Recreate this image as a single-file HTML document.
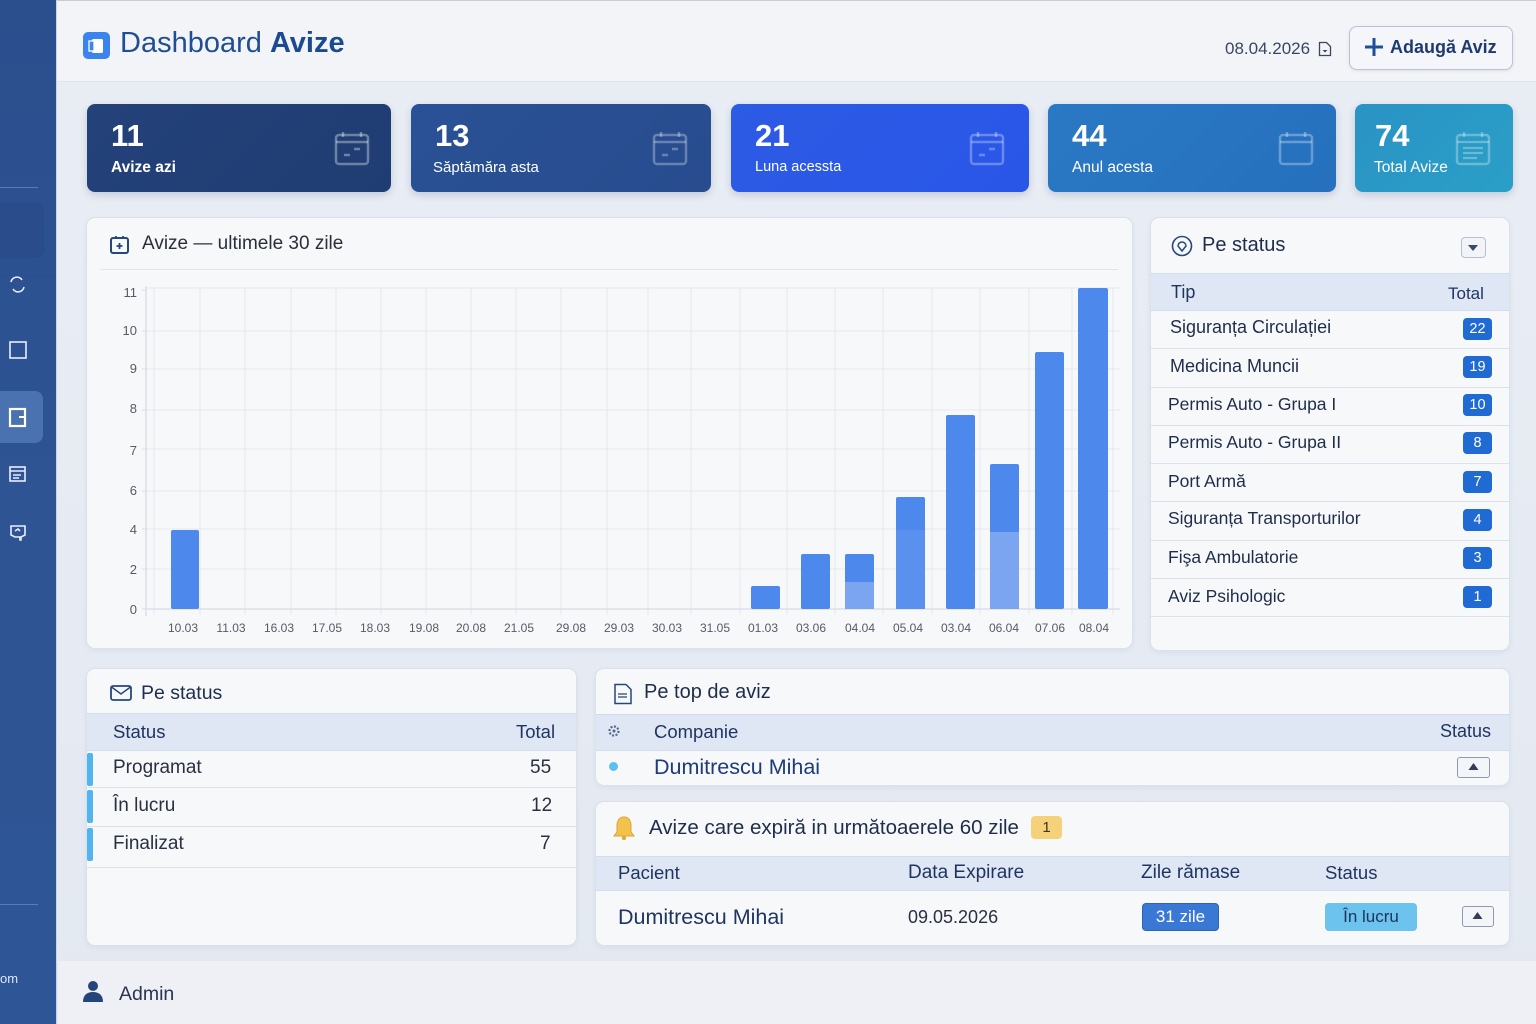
<!DOCTYPE html>
<html><head><meta charset="utf-8">
<style>
*{margin:0;padding:0;box-sizing:border-box}
body{width:1536px;height:1024px;overflow:hidden;position:relative;font-family:"Liberation Sans","DejaVu Sans",sans-serif;background:linear-gradient(180deg,#e9edf4 0%,#e6ebf3 60%,#e4e9f1 100%);color:#1f2d4a}
.a{position:absolute}
.side{left:0;top:0;width:57px;height:1024px;background:linear-gradient(180deg,#2b4e8d 0%,#2e5494 50%,#2e5595 100%);border-right:1px solid #c9d3e3}
.hdr{left:57px;top:0;width:1479px;height:82px;background:#f3f4f7;border-bottom:1px solid #e0e4ec;border-top:1px solid #c9ccd3}
.card{background:#f7f8fa;border:1px solid #dbe1ea;border-radius:9px;box-shadow:0 2px 6px rgba(40,60,100,.06)}
.stat{top:104px;height:88px;border-radius:8px;color:#fff;box-shadow:0 3px 8px rgba(30,50,100,.18)}
.stat .n{position:absolute;left:24px;top:14px;font-size:31px;font-weight:bold}
.stat .l{position:absolute;left:24px;top:55px;font-size:15.5px}
.stat svg{position:absolute;top:27px}
.th{background:#dfe7f5;border-top:1px solid #d2dcec;border-bottom:1px solid #d2dcec}
.row{border-bottom:1px solid #dde2ea}
.badge{position:absolute;background:#1f6bd3;color:#fff;font-size:14.5px;border-radius:4px;text-align:center;height:22px;line-height:22px;width:29px}
.t{position:absolute;white-space:nowrap}
</style></head><body>

<!-- sidebar -->
<div class="a side"></div>
<div class="a" style="left:0;top:187px;width:38px;height:1px;background:#5d7cb0"></div>
<div class="a" style="left:0;top:203px;width:44px;height:55px;background:#2a4c8b;border-radius:0 8px 8px 0"></div>
<div class="a" style="left:0;top:391px;width:43px;height:52px;background:#4a71b0;border-radius:0 8px 8px 0"></div>
<div class="a" style="left:0;top:904px;width:38px;height:1px;background:#5d7cb0"></div>
<svg class="a" style="left:0;top:0" width="57" height="1024">
 <g fill="none" stroke="#e8eefa" stroke-width="1.6">
  <path d="M11 282 a6 6 0 0 1 11 -2 M24 287 a6 6 0 0 1 -11 2"/>
  <rect x="10" y="342" width="16" height="16"/>
  <rect x="10" y="409" width="15" height="17" stroke-width="2.2" stroke="#fff"/>
  <path d="M19 417 h7" stroke="#fff" stroke-width="2"/>
  <rect x="10" y="467" width="15" height="14"/><path d="M10 471 h15 M13 475 h8 M13 478 h6"/>
  <path d="M11 526 h14 v9 l-4 2 v3 h-1 v-3 h-5 l-4 -2 z"/><path d="M15 531 l3 -2 2 2"/>
 </g>
</svg>
<div class="t" style="left:0;top:971px;font-size:13px;color:#dfe7f5">om</div>

<!-- header -->
<div class="a hdr"></div>
<div class="a" style="left:83px;top:32px;width:27px;height:27px;background:#3b83ef;border-radius:5px"></div>
<svg class="a" style="left:83px;top:32px" width="27" height="27"><rect x="9" y="7" width="11" height="14" rx="1.5" fill="#fff"/><rect x="6" y="9" width="5" height="10" fill="#3b83ef" stroke="#fff" stroke-width="1.3"/></svg>
<div class="t" style="left:120px;top:27px;font-size:29px;color:#1f4e96">Dashboard <span style="font-weight:600;color:#1c4a90">Avize</span></div>
<div class="t" style="left:1225px;top:39px;font-size:17px;color:#3a4660">08.04.2026</div>
<svg class="a" style="left:1317px;top:41px" width="16" height="16"><path d="M2.5 1.5 h7 l4 4 v9 h-11 z" fill="none" stroke="#3a4660" stroke-width="1.3"/><path d="M5.5 9 l2.5 2.5 2.5 -2.5z" fill="#3a4660"/></svg>
<div class="a" style="left:1349px;top:26px;width:164px;height:44px;border:1.3px solid #b6c2da;border-radius:8px;background:#f5f6f9;box-shadow:0 1px 3px rgba(30,50,100,.1)"></div>
<svg class="a" style="left:1364px;top:37px" width="20" height="20"><path d="M10 1 v18 M1 10 h18" stroke="#1e4f9c" stroke-width="3"/></svg>
<div class="t" style="left:1390px;top:37px;font-size:18px;font-weight:bold;color:#1f3a72">Adaugă Aviz</div>

<!-- stat cards -->
<div class="a stat" style="left:87px;width:304px;background:linear-gradient(135deg,#24427a,#1f3d72)"><div class="n">11</div><div class="l" style="font-weight:600">Avize azi</div>
<svg style="left:247px" width="36" height="36"><rect x="2" y="4" width="32" height="29" rx="3" fill="none" stroke="rgba(255,255,255,.35)" stroke-width="2.5"/><path d="M2 11 h32 M9 1 v5 M27 1 v5" stroke="rgba(255,255,255,.35)" stroke-width="2.5"/><path d="M10 24 h6 M20 18 h6" stroke="rgba(255,255,255,.35)" stroke-width="2.5"/></svg></div>
<div class="a stat" style="left:411px;width:300px;background:linear-gradient(135deg,#2a5196,#284c8e)"><div class="n">13</div><div class="l" style="font-size:15px;left:22px">Săptămăra asta</div>
<svg style="left:241px" width="36" height="36"><rect x="2" y="4" width="32" height="29" rx="3" fill="none" stroke="rgba(255,255,255,.3)" stroke-width="2.5"/><path d="M2 11 h32 M9 1 v5 M27 1 v5 M10 24 h6 M20 18 h6" stroke="rgba(255,255,255,.3)" stroke-width="2.5"/></svg></div>
<div class="a stat" style="left:731px;width:298px;background:linear-gradient(135deg,#2c5be4,#2a56e8)"><div class="n">21</div><div class="l" style="font-size:14.5px">Luna acessta</div>
<svg style="left:238px" width="36" height="36"><rect x="2" y="4" width="32" height="29" rx="3" fill="none" stroke="rgba(255,255,255,.3)" stroke-width="2.5"/><path d="M2 11 h32 M9 1 v5 M27 1 v5 M10 24 h6 M20 18 h6" stroke="rgba(255,255,255,.3)" stroke-width="2.5"/></svg></div>
<div class="a stat" style="left:1048px;width:288px;background:linear-gradient(135deg,#2a79c4,#2670bd)"><div class="n">44</div><div class="l">Anul acesta</div>
<svg style="left:230px" width="36" height="36"><rect x="2" y="4" width="32" height="29" rx="3" fill="none" stroke="rgba(255,255,255,.3)" stroke-width="2.5"/><path d="M2 11 h32 M9 1 v5 M27 1 v5" stroke="rgba(255,255,255,.3)" stroke-width="2.5"/></svg></div>
<div class="a stat" style="left:1355px;width:158px;background:linear-gradient(135deg,#2a93c5,#2a9fc6)"><div class="n" style="left:20px">74</div><div class="l" style="left:19px">Total Avize</div>
<svg style="left:100px" width="38" height="36"><rect x="2" y="4" width="32" height="29" rx="3" fill="none" stroke="rgba(255,255,255,.3)" stroke-width="2.5"/><path d="M2 11 h32 M9 1 v5 M27 1 v5 M8 17 h20 M8 22 h20 M8 27 h14" stroke="rgba(255,255,255,.3)" stroke-width="2.3"/></svg></div>

<!-- chart card -->
<div class="a card" style="left:86px;top:217px;width:1047px;height:432px"></div>
<svg class="a" style="left:109px;top:234px" width="22" height="22"><rect x="2" y="4" width="17" height="15" rx="2" fill="none" stroke="#25467e" stroke-width="2"/><path d="M7 2 v3 M14 2 v3 M10.5 9 v6 M7.5 12 h6" stroke="#25467e" stroke-width="1.8"/></svg>
<div class="t" style="left:142px;top:233px;font-size:19px;color:#2a2f3a">Avize — ultimele 30 zile</div>
<div class="a" style="left:100px;top:269px;width:1018px;height:1px;background:#e2e6ed"></div>

<svg class="a" style="left:0;top:0" width="1536" height="1024">
 <g stroke="#e6e8ee" stroke-width="1">
  <path d="M146 288H1120M146 331H1120M146 369H1120M146 410H1120M146 449H1120M146 491H1120M146 529H1120M146 569H1120"/>
  <path d="M154 288V615M200 288V615M245 288V615M291 288V615M336 288V615M381 288V615M426 288V615M471 288V615M516 288V615M561 288V615M607 288V615M648 288V615M691 288V615M740 288V615M787 288V615M835 288V615M883 288V615M932 288V615M980 288V615M1029 288V615M1072 288V615M1113 288V615"/>
 </g>
 <path d="M146 286V616M146 609H1120" stroke="#d7dbe3" stroke-width="1.3"/>
 <path d="M142 290h4M142 331h4M142 369h4M142 410h4M142 449h4M142 491h4M142 529h4M142 569h4M142 609h4" stroke="#d7dbe3"/>
 <g font-family="Liberation Sans, sans-serif" font-size="13" fill="#555b66" text-anchor="end">
  <text x="137" y="297">11</text><text x="137" y="335">10</text><text x="137" y="373">9</text><text x="137" y="413">8</text><text x="137" y="455">7</text><text x="137" y="495">6</text><text x="137" y="534">4</text><text x="137" y="574">2</text><text x="137" y="614">0</text>
 </g>
 <g font-family="Liberation Sans, sans-serif" font-size="12" fill="#555b66" text-anchor="middle">
  <text x="183" y="632">10.03</text><text x="231" y="632">11.03</text><text x="279" y="632">16.03</text><text x="327" y="632">17.05</text><text x="375" y="632">18.03</text><text x="424" y="632">19.08</text><text x="471" y="632">20.08</text><text x="519" y="632">21.05</text><text x="571" y="632">29.08</text><text x="619" y="632">29.03</text><text x="667" y="632">30.03</text><text x="715" y="632">31.05</text><text x="763" y="632">01.03</text><text x="811" y="632">03.06</text><text x="860" y="632">04.04</text><text x="908" y="632">05.04</text><text x="956" y="632">03.04</text><text x="1004" y="632">06.04</text><text x="1050" y="632">07.06</text><text x="1094" y="632">08.04</text>
 </g>
 <g fill="#4d88ec">
  <rect x="171" y="530" width="28" height="79" rx="2"/>
  <rect x="751" y="586" width="29" height="23" rx="2"/>
  <rect x="801" y="554" width="29" height="55" rx="2"/>
  <rect x="845" y="554" width="29" height="55" rx="2"/>
  <rect x="896" y="497" width="29" height="112" rx="2"/>
  <rect x="946" y="415" width="29" height="194" rx="2"/>
  <rect x="990" y="464" width="29" height="145" rx="2"/>
  <rect x="1035" y="352" width="29" height="257" rx="2"/>
  <rect x="1078" y="288" width="30" height="321" rx="2"/>
 </g>
 <g fill="#7ba4f1">
  <rect x="845" y="582" width="29" height="27"/>
  <rect x="990" y="532" width="29" height="77"/>
 </g>
 <rect x="896" y="530" width="29" height="79" fill="#5a91ee"/>
</svg>

<!-- right Pe status card -->
<div class="a card" style="left:1150px;top:217px;width:360px;height:434px;overflow:hidden">
 <div class="a th" style="left:0;top:55px;width:360px;height:38px"></div>
 <div class="a row" style="left:0;top:93px;width:360px;height:38px"></div>
 <div class="a row" style="left:0;top:131px;width:360px;height:39px"></div>
 <div class="a row" style="left:0;top:170px;width:360px;height:38px"></div>
 <div class="a row" style="left:0;top:208px;width:360px;height:38px"></div>
 <div class="a row" style="left:0;top:246px;width:360px;height:38px"></div>
 <div class="a row" style="left:0;top:284px;width:360px;height:39px"></div>
 <div class="a row" style="left:0;top:323px;width:360px;height:38px"></div>
 <div class="a row" style="left:0;top:361px;width:360px;height:38px"></div>
</div>
<svg class="a" style="left:1171px;top:235px" width="22" height="22"><circle cx="11" cy="11" r="9.5" fill="none" stroke="#25467e" stroke-width="1.6"/><path d="M11 16 l-4 -5 a4 4 0 1 1 8 0 z" fill="none" stroke="#25467e" stroke-width="1.5"/></svg>
<div class="t" style="left:1202px;top:234px;font-size:20px;color:#1f2d4a">Pe status</div>
<div class="a" style="left:1461px;top:237px;width:25px;height:21px;border:1.2px solid #b5bfcf;border-radius:4px;background:#f3f4f7"></div>
<svg class="a" style="left:1466px;top:243px" width="14" height="10"><path d="M2 2 h10 l-5 6z" fill="#3b4a66"/></svg>
<div class="t" style="left:1171px;top:282px;font-size:18px;color:#1f3560">Tip</div>
<div class="t" style="left:1448px;top:284px;font-size:17px;color:#1f3560">Total</div>
<div class="t" style="left:1170px;top:317px;font-size:18px">Siguranța Circulației</div>
<div class="t" style="left:1170px;top:356px;font-size:18px">Medicina Muncii</div>
<div class="t" style="left:1168px;top:394px;font-size:17.5px">Permis Auto - Grupa I</div>
<div class="t" style="left:1168px;top:432px;font-size:17.5px">Permis Auto - Grupa II</div>
<div class="t" style="left:1168px;top:471px;font-size:17.5px">Port Armă</div>
<div class="t" style="left:1168px;top:508px;font-size:17.5px">Siguranța Transporturilor</div>
<div class="t" style="left:1168px;top:547px;font-size:17.5px">Fişa Ambulatorie</div>
<div class="t" style="left:1168px;top:586px;font-size:17.5px">Aviz Psihologic</div>
<div class="badge" style="left:1463px;top:318px">22</div>
<div class="badge" style="left:1463px;top:356px">19</div>
<div class="badge" style="left:1463px;top:394px">10</div>
<div class="badge" style="left:1463px;top:432px">8</div>
<div class="badge" style="left:1463px;top:471px">7</div>
<div class="badge" style="left:1463px;top:509px">4</div>
<div class="badge" style="left:1463px;top:547px">3</div>
<div class="badge" style="left:1463px;top:586px">1</div>

<!-- bottom left Pe status -->
<div class="a card" style="left:86px;top:668px;width:491px;height:278px;overflow:hidden">
 <div class="a th" style="left:0;top:44px;width:491px;height:38px"></div>
 <div class="a row" style="left:0;top:82px;width:491px;height:37px"></div>
 <div class="a row" style="left:0;top:119px;width:491px;height:39px"></div>
 <div class="a row" style="left:0;top:158px;width:491px;height:41px"></div>
 <div class="a" style="left:0;top:84px;width:6px;height:33px;background:#4fb4f0;border-radius:2px"></div>
 <div class="a" style="left:0;top:121px;width:6px;height:33px;background:#4fb4f0;border-radius:2px"></div>
 <div class="a" style="left:0;top:159px;width:6px;height:33px;background:#4fb4f0;border-radius:2px"></div>
</div>
<svg class="a" style="left:110px;top:684px" width="22" height="18"><rect x="1" y="2" width="20" height="14" rx="2" fill="none" stroke="#25467e" stroke-width="1.8"/><path d="M1.5 3 l9.5 7 9.5 -7" fill="none" stroke="#25467e" stroke-width="1.5"/></svg>
<div class="t" style="left:141px;top:682px;font-size:19.5px;color:#1f2d4a">Pe status</div>
<div class="t" style="left:113px;top:721px;font-size:18.5px;color:#1f3560">Status</div>
<div class="t" style="left:516px;top:721px;font-size:18.5px;color:#1f3560">Total</div>
<div class="t" style="left:113px;top:757px;font-size:19px;color:#2a3040">Programat</div>
<div class="t" style="left:530px;top:757px;font-size:19px;color:#2a3040">55</div>
<div class="t" style="left:113px;top:795px;font-size:19px;color:#2a3040">În lucru</div>
<div class="t" style="left:531px;top:795px;font-size:19px;color:#2a3040">12</div>
<div class="t" style="left:540px;top:833px;font-size:19px;color:#2a3040">7</div>
<div class="t" style="left:113px;top:833px;font-size:19px;color:#2a3040">Finalizat</div>

<!-- Pe top de aviz -->
<div class="a card" style="left:595px;top:668px;width:915px;height:118px;overflow:hidden">
 <div class="a th" style="left:0;top:45px;width:915px;height:37px"></div>
</div>
<svg class="a" style="left:613px;top:683px" width="20" height="22"><path d="M2 1.5 h11 l5 5 v14 h-16 z" fill="none" stroke="#25467e" stroke-width="1.5"/><path d="M5 11 h9 M5 14 h9" stroke="#25467e" stroke-width="1.3"/></svg>
<div class="t" style="left:644px;top:681px;font-size:20px;color:#1f2d4a">Pe top de aviz</div>
<svg class="a" style="left:607px;top:724px" width="14" height="14"><circle cx="7" cy="7" r="4.5" fill="none" stroke="#56698c" stroke-width="2.2" stroke-dasharray="2 1.5"/><circle cx="7" cy="7" r="1.5" fill="#56698c"/></svg>
<div class="t" style="left:654px;top:721px;font-size:18.5px;color:#1f3560">Companie</div>
<div class="t" style="left:1440px;top:721px;font-size:18px;color:#1f3560">Status</div>
<div class="a" style="left:609px;top:762px;width:9px;height:9px;border-radius:50%;background:#5bc0ef"></div>
<div class="t" style="left:654px;top:755px;font-size:21.5px;color:#1d3b78">Dumitrescu Mihai</div>
<div class="a" style="left:1457px;top:757px;width:33px;height:21px;border:1.3px solid #8e9ab0;border-radius:3px;background:#f4f5f8"></div>
<svg class="a" style="left:1467px;top:761px" width="13" height="11"><path d="M1.5 9 h10 l-5 -7z" fill="#2f3d57"/></svg>

<!-- Avize care expira -->
<div class="a card" style="left:595px;top:801px;width:915px;height:145px;overflow:hidden">
 <div class="a th" style="left:0;top:54px;width:915px;height:35px"></div>
</div>
<svg class="a" style="left:612px;top:815px" width="24" height="26"><path d="M12 2 c-5 0 -7 4 -7 9 v6 l-3 4 h20 l-3 -4 v-6 c0 -5 -2 -9 -7 -9z" fill="#f2c24c" stroke="#d9a531" stroke-width="1"/><circle cx="12" cy="23" r="2.2" fill="#e0ab36"/></svg>
<div class="t" style="left:649px;top:816px;font-size:20.5px;color:#1f2d4a">Avize care expiră in următoaerele 60 zile</div>
<div class="a" style="left:1031px;top:816px;width:31px;height:23px;background:#f5d27a;border-radius:4px;text-align:center;line-height:23px;font-size:15px;color:#3a3420">1</div>
<div class="t" style="left:618px;top:862px;font-size:18.5px;color:#1f3560">Pacient</div>
<div class="t" style="left:908px;top:862px;font-size:19px;color:#1f3560">Data Expirare</div>
<div class="t" style="left:1141px;top:862px;font-size:19px;color:#1f3560">Zile rămase</div>
<div class="t" style="left:1325px;top:862px;font-size:18.5px;color:#1f3560">Status</div>
<div class="t" style="left:618px;top:905px;font-size:21.5px;color:#1f3560">Dumitrescu Mihai</div>
<div class="t" style="left:908px;top:907px;font-size:18px;color:#2a3040">09.05.2026</div>
<div class="a" style="left:1142px;top:903px;width:77px;height:28px;background:#3a78d6;border:1px solid #2f63b8;border-radius:4px;color:#fff;text-align:center;line-height:26px;font-size:17px">31 zile</div>
<div class="a" style="left:1325px;top:903px;width:92px;height:28px;background:#6cc3ee;border-radius:4px;color:#1f3560;text-align:center;line-height:28px;font-size:17px">În lucru</div>
<div class="a" style="left:1462px;top:906px;width:32px;height:21px;border:1.3px solid #8e9ab0;border-radius:3px;background:#f4f5f8"></div>
<svg class="a" style="left:1471px;top:910px" width="13" height="11"><path d="M1.5 9 h10 l-5 -7z" fill="#2f3d57"/></svg>

<!-- footer -->
<div class="a" style="left:58px;top:961px;width:1478px;height:63px;background:#eef0f5"></div>
<svg class="a" style="left:82px;top:980px" width="22" height="23"><circle cx="11" cy="6" r="5" fill="#25457a"/><path d="M1 22 c0 -7 4 -10 10 -10 s10 3 10 10z" fill="#25457a"/></svg>
<div class="t" style="left:119px;top:983px;font-size:19.5px;color:#2a3550">Admin</div>

</body></html>
